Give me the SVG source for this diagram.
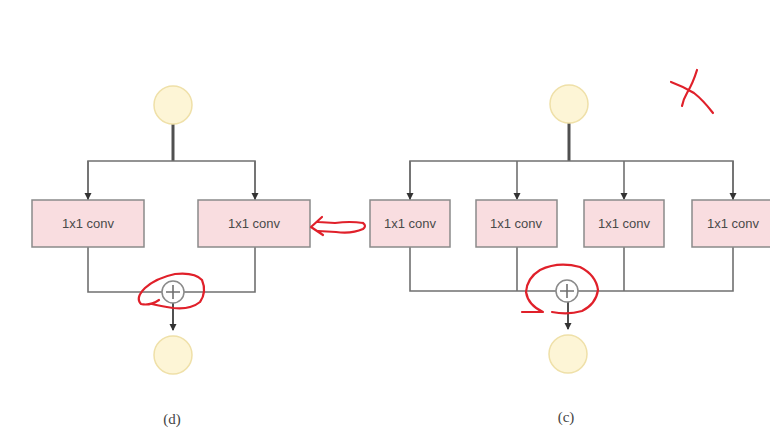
<svg xmlns="http://www.w3.org/2000/svg" width="770" height="429" viewBox="0 0 770 429">
<style>
.io{fill:#fdf5d6;stroke:#efe0a8;stroke-width:1.5}
.box{fill:#f9dde0;stroke:#8a8a8a;stroke-width:1.5}
.lbl{font-family:"Liberation Sans",Arial,sans-serif;font-size:13px;fill:#4a4a4a;text-anchor:middle}
.cap{font-family:"Liberation Serif","Times New Roman",serif;font-size:15px;fill:#444;text-anchor:middle}
.ln{fill:none;stroke:#707070;stroke-width:1.6}
.thick{fill:none;stroke:#505050;stroke-width:3}
.sum{fill:#fff;stroke:#8a8a8a;stroke-width:1.5}
.red{fill:none;stroke:#e0202a;stroke-width:2.2;stroke-linecap:round;stroke-linejoin:round}
</style>
<defs>
<marker id="ah" markerWidth="8" markerHeight="8" refX="6" refY="4" orient="auto" markerUnits="userSpaceOnUse">
<path d="M0,0.5 L7,4 L0,7.5 Z" fill="#333"/>
</marker>
</defs>
<rect width="770" height="429" fill="#fff"/>
<g id="connectors">
<line class="thick" x1="173" y1="124" x2="173" y2="161"/>
<path class="ln" d="M88,200 V161 H255 V200" />
<line class="ln" x1="88" y1="161" x2="88" y2="199" marker-end="url(#ah)"/>
<line class="ln" x1="255" y1="161" x2="255" y2="199" marker-end="url(#ah)"/>
<path class="ln" d="M88,247 V292 H255 V247"/>
<line class="thick" x1="173" y1="303" x2="173" y2="330" marker-end="url(#ah)" style="stroke-width:2"/>
<line class="thick" x1="569" y1="123" x2="569" y2="161"/>
<path class="ln" d="M410,200 V161 H733 V200"/>
<line class="ln" x1="410" y1="161" x2="410" y2="199" marker-end="url(#ah)"/>
<line class="ln" x1="517" y1="161" x2="517" y2="199" marker-end="url(#ah)"/>
<line class="ln" x1="624" y1="161" x2="624" y2="199" marker-end="url(#ah)"/>
<line class="ln" x1="733" y1="161" x2="733" y2="199" marker-end="url(#ah)"/>
<path class="ln" d="M410,247 V291 H733 V247"/>
<line class="ln" x1="517" y1="247" x2="517" y2="291"/>
<line class="ln" x1="624" y1="247" x2="624" y2="291"/>
<line class="thick" x1="568" y1="302" x2="568" y2="329" marker-end="url(#ah)" style="stroke-width:2"/>
</g>
<g id="d-in"><circle class="io" cx="173" cy="105" r="19"/></g>
<g id="d-conv1"><rect class="box" x="32" y="200" width="112" height="47"/><text class="lbl" x="88" y="228">1x1 conv</text></g>
<g id="d-conv2"><rect class="box" x="198" y="200" width="112" height="47"/><text class="lbl" x="254" y="228">1x1 conv</text></g>
<g id="d-sum"><circle class="sum" cx="173" cy="292" r="11"/><path class="ln" d="M166,292 H180 M173,285 V299"/></g>
<g id="d-out"><circle class="io" cx="173" cy="355" r="19"/></g>
<text class="cap" x="172" y="424">(d)</text>

<g id="c-in"><circle class="io" cx="569" cy="104" r="19"/></g>
<g id="c-conv1"><rect class="box" x="370" y="200" width="80" height="47"/><text class="lbl" x="410" y="228">1x1 conv</text></g>
<g id="c-conv2"><rect class="box" x="476" y="200" width="81" height="47"/><text class="lbl" x="516" y="228">1x1 conv</text></g>
<g id="c-conv3"><rect class="box" x="584" y="200" width="80" height="47"/><text class="lbl" x="624" y="228">1x1 conv</text></g>
<g id="c-conv4"><rect class="box" x="692" y="200" width="82" height="47"/><text class="lbl" x="733" y="228">1x1 conv</text></g>
<g id="c-sum"><circle class="sum" cx="567" cy="291" r="11"/><path class="ln" d="M560,291 H574 M567,284 V298"/></g>
<g id="c-out"><circle class="io" cx="568" cy="354" r="19"/></g>
<text class="cap" x="566" y="422">(c)</text>

<g id="annotations">
<path class="red" d="M363,223 Q350,221 335,223 L318,222 M311,227 L322,217 M311,227 L323,235 M318,231 L336,232 Q352,234 363,229 Q367,226 363,223"/>
<path class="red" d="M159,300 Q150,306 141,304 Q135,298 145,288 Q156,278 175,274 Q195,272 202,280 Q207,292 200,302 Q190,310 173,308 Q160,306 152,304"/>
<path class="red" d="M522,312 L543,312 Q528,305 526,292 Q527,278 540,270 Q558,261 580,267 Q596,275 598,290 Q596,304 582,311 Q568,315 552,312"/>
<path class="red" d="M671,82 Q682,86 694,93 Q703,100 713,113 M697,70 Q693,83 687,93 Q683,100 682,106"/>
</g>
</svg>
